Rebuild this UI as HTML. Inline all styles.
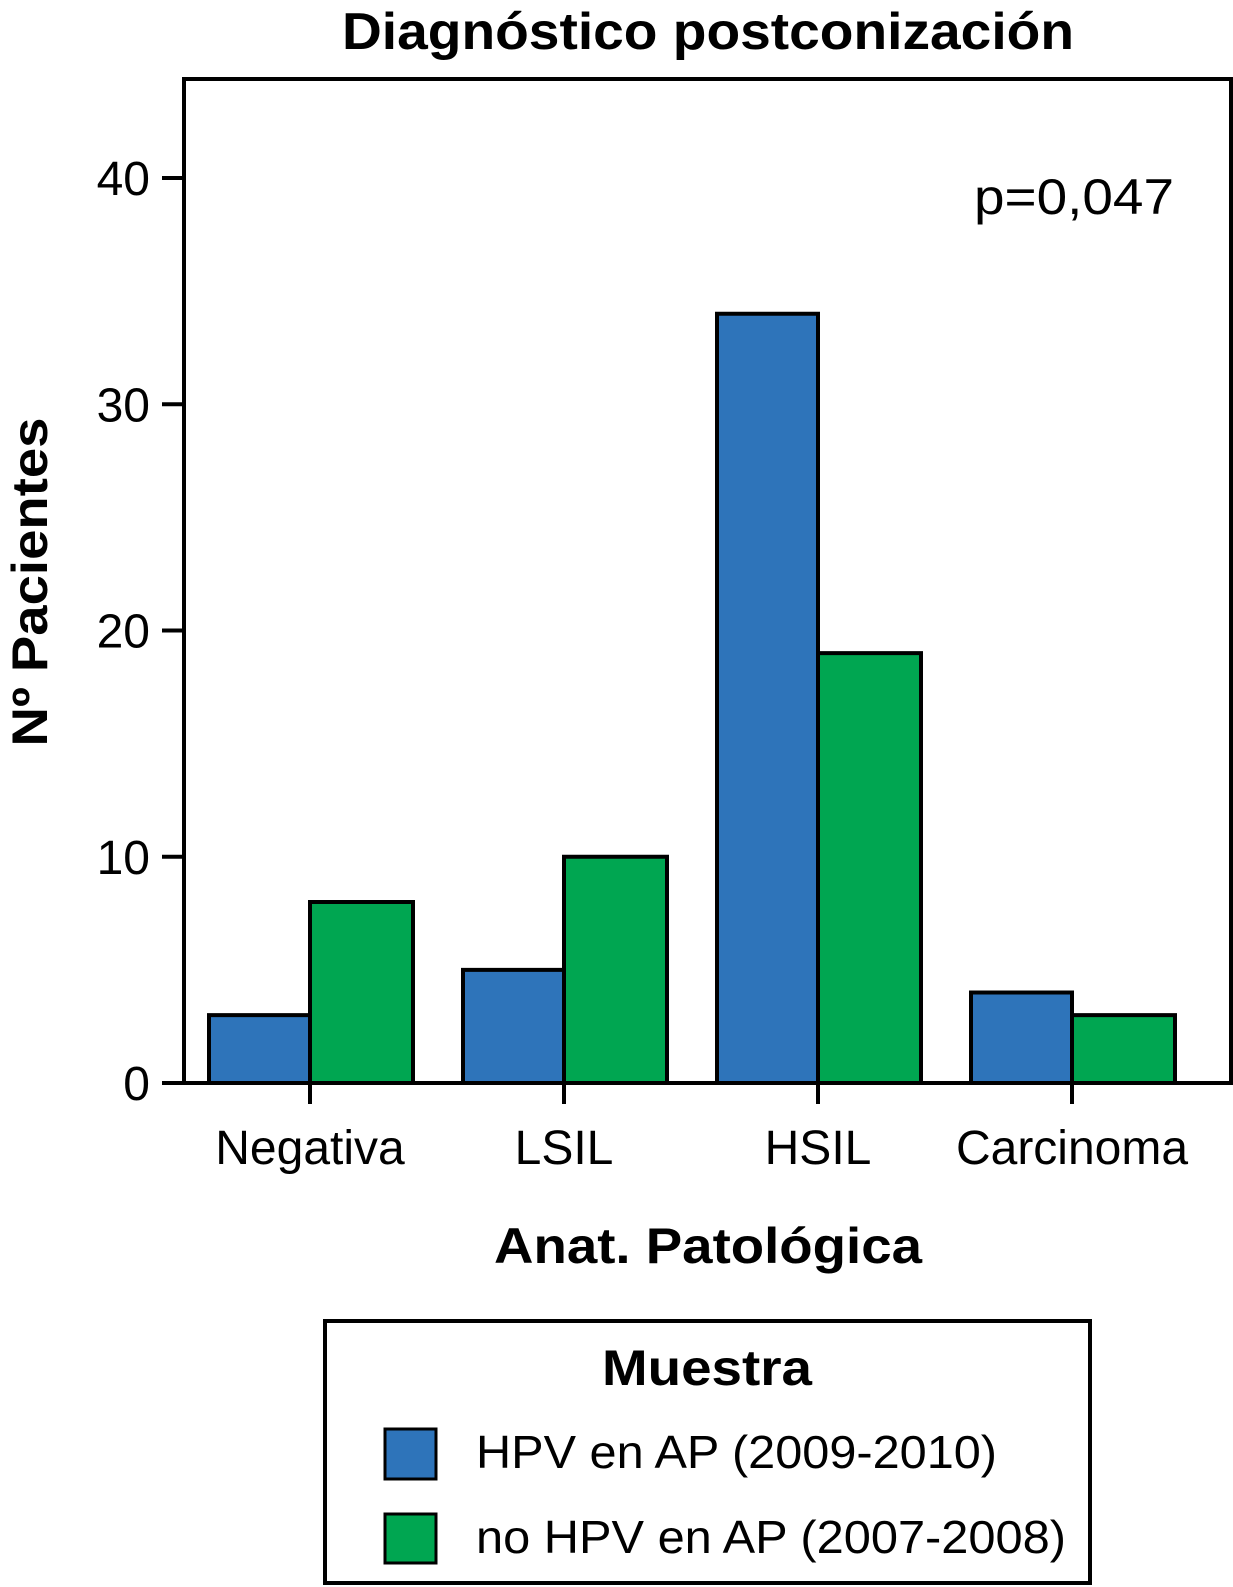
<!DOCTYPE html>
<html><head><meta charset="utf-8"><style>
body{margin:0;background:#fff}
svg{display:block;font-family:"Liberation Sans",Arial,sans-serif}
</style></head><body>
<svg id="chart" width="1233" height="1587">
<text x="708" y="49" text-anchor="middle" font-size="52" font-weight="bold" textLength="732" lengthAdjust="spacingAndGlyphs">Diagnóstico postconización</text>
<rect x="184" y="79" width="1047" height="1004" fill="none" stroke="#000" stroke-width="4"/>
<g id="bars"></g>
<g id="axes"></g>
<text x="1074" y="214" text-anchor="middle" font-size="50" textLength="200" lengthAdjust="spacingAndGlyphs">p=0,047</text>
<text transform="translate(47,582) rotate(-90)" text-anchor="middle" font-size="50" font-weight="bold" textLength="329" lengthAdjust="spacingAndGlyphs">Nº Pacientes</text>
<text x="708" y="1263" text-anchor="middle" font-size="50" font-weight="bold" textLength="428" lengthAdjust="spacingAndGlyphs">Anat. Patológica</text>
<g>
<rect x="325" y="1321" width="765" height="262" fill="none" stroke="#000" stroke-width="4"/>
<text x="707" y="1385" text-anchor="middle" font-size="50" font-weight="bold" textLength="210" lengthAdjust="spacingAndGlyphs">Muestra</text>
<rect x="385" y="1429" width="51" height="50" fill="#2e74ba" stroke="#000" stroke-width="3"/>
<text x="476" y="1468" font-size="46" textLength="521" lengthAdjust="spacingAndGlyphs">HPV en AP (2009-2010)</text>
<rect x="385" y="1514" width="51" height="49" fill="#00a651" stroke="#000" stroke-width="3"/>
<text x="476" y="1553" font-size="46" textLength="590" lengthAdjust="spacingAndGlyphs">no HPV en AP (2007-2008)</text>
</g>
</svg>
<script>
const categories=["Negativa","LSIL","HSIL","Carcinoma"];
const hpvValues=[3,5,34,4];
const noHpvValues=[8,10,19,3];
const yTicks=[0,10,20,30,40];
const ns="http://www.w3.org/2000/svg";
const y0=1083,yUnit=(1083-178)/40;
function yScale(v){return y0-v*yUnit;}
function xCenter(i){return 310+i*254;}
const bw=101;
const bars=document.getElementById('bars'),axes=document.getElementById('axes');
function mk(tag,attrs,parent){const e=document.createElementNS(ns,tag);for(const k in attrs)e.setAttribute(k,attrs[k]);parent.appendChild(e);return e;}
categories.forEach((c,i)=>{
  const cx=xCenter(i);
  const b1=mk('rect',{x:cx-bw,y:yScale(hpvValues[i]),width:bw,height:y0-yScale(hpvValues[i]),fill:'#2e74ba',stroke:'#000','stroke-width':4},bars);
  
  
  const b2=mk('rect',{x:cx,y:yScale(noHpvValues[i]),width:bw+2,height:y0-yScale(noHpvValues[i]),fill:'#00a651',stroke:'#000','stroke-width':4},bars);
  
  
  const t=mk('line',{x1:cx,x2:cx,y1:y0,y2:y0+21,stroke:'#000','stroke-width':4},axes);
  
  
  const l=mk('text',{x:cx,y:1164,'text-anchor':'middle','font-size':48},axes);
  l.textContent=c;
  
  
});
yTicks.forEach(v=>{
  const y=yScale(v);
  const t=mk('line',{x1:162,x2:184,y1:y,y2:y,stroke:'#000','stroke-width':4},axes);
  
  
  const l=mk('text',{x:150,y:y+17,'text-anchor':'end','font-size':48},axes);
  l.textContent=v;
  
  
});
</script>
</body></html>
